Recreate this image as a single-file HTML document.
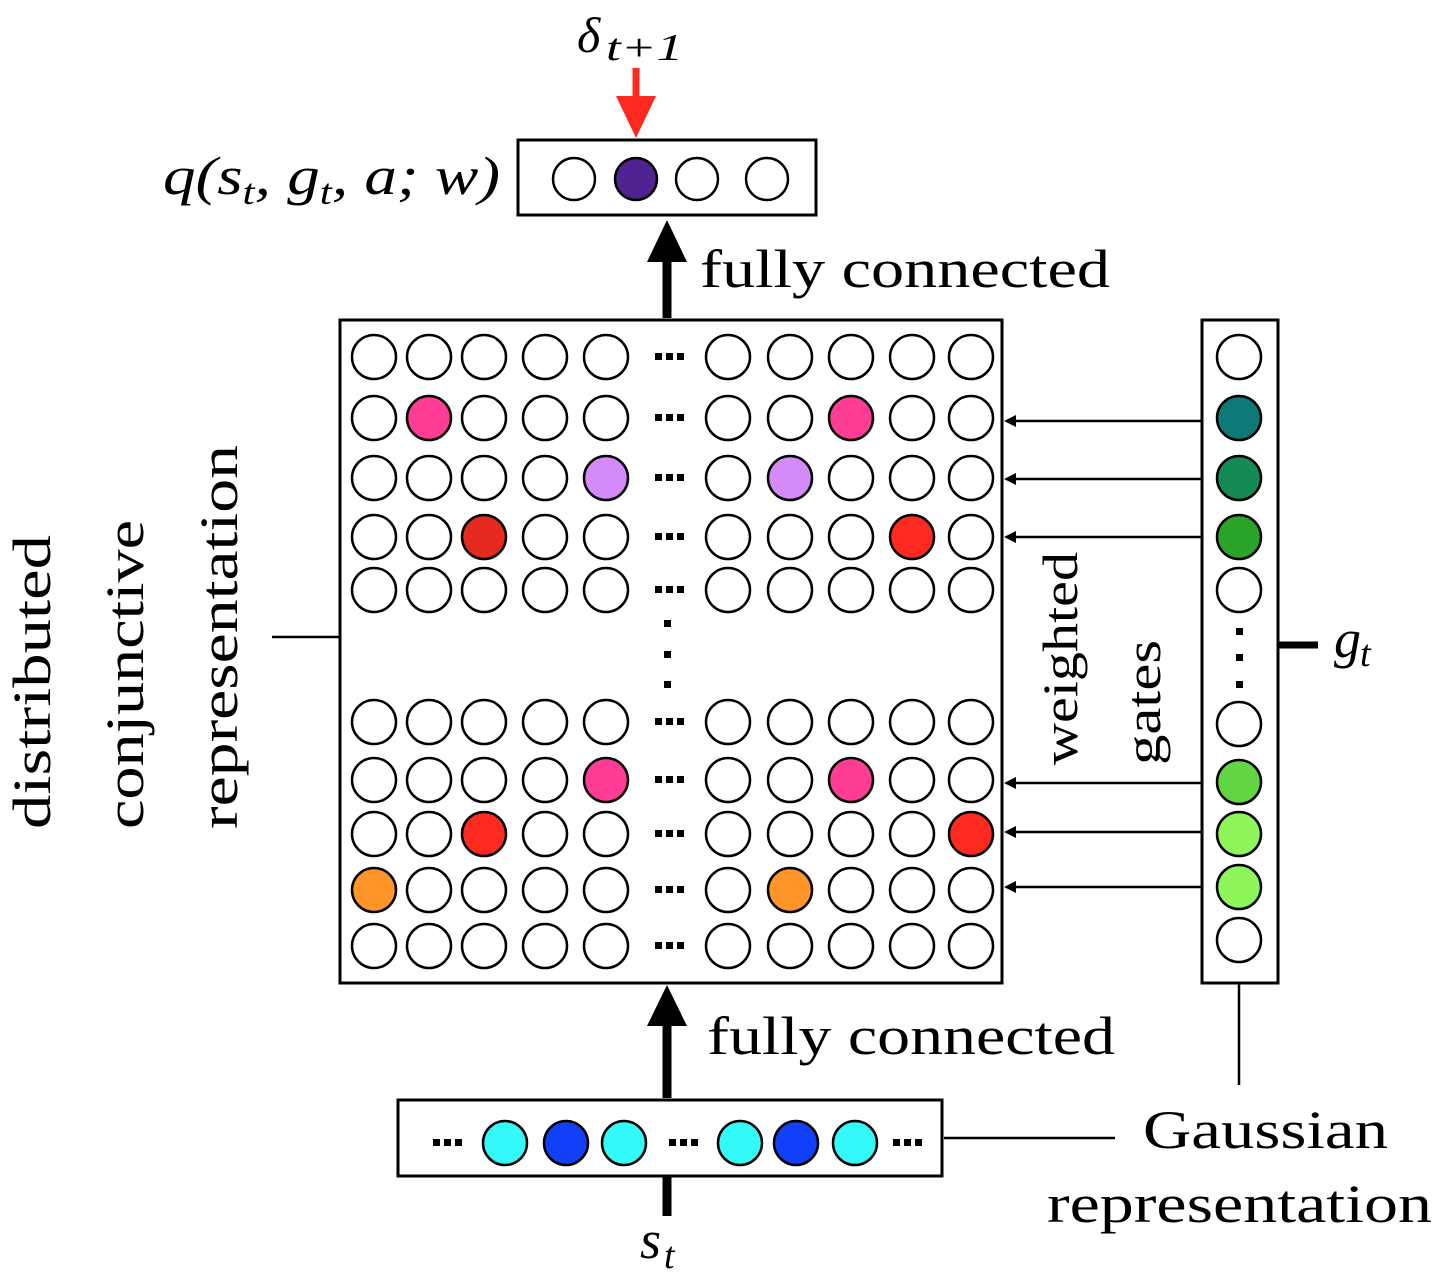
<!DOCTYPE html>
<html><head><meta charset="utf-8"><style>
html,body{margin:0;padding:0;background:#fff;width:1439px;height:1280px;overflow:hidden}
svg{display:block}
text{font-family:"Liberation Serif",serif;fill:#000}
</style></head><body>
<svg width="1439" height="1280" viewBox="0 0 1439 1280" xmlns="http://www.w3.org/2000/svg">
<defs>
<ellipse id="c" cx="0" cy="0" rx="21" ry="21" fill="#fff" stroke="#000" stroke-width="2.5"/>
<ellipse id="s" cx="0" cy="0" rx="22" ry="22" fill="#fff" stroke="#000" stroke-width="2.5"/>
<g id="d"><rect x="-14" y="-4" width="7" height="7" fill="#000"/><rect x="-3" y="-4" width="7" height="7" fill="#000"/><rect x="8" y="-4" width="7" height="7" fill="#000"/></g>
</defs>

<!-- top output -->
<text x="577" y="52" font-size="50" font-style="italic">δ</text>
<text x="606" y="60" font-size="38" font-style="italic" textLength="77" lengthAdjust="spacingAndGlyphs">t+1</text>
<line x1="636" y1="68" x2="636" y2="100" stroke="#FF2A1F" stroke-width="7"/>
<polygon points="616,96 656,96 636,138" fill="#FF2A1F"/>
<rect x="518" y="140" width="298" height="75" fill="#fff" stroke="#000" stroke-width="3"/>
<use href="#c" x="574" y="179"/>
<ellipse cx="636" cy="179" rx="21" ry="21" fill="#512291" stroke="#000" stroke-width="2.5"/>
<use href="#c" x="697" y="179"/>
<use href="#c" x="767" y="179"/>
<text x="163" y="194" font-size="54" font-style="italic" textLength="337" lengthAdjust="spacingAndGlyphs">q(s<tspan font-size="36" dy="10">t</tspan><tspan dy="-10">, g</tspan><tspan font-size="36" dy="10">t</tspan><tspan dy="-10">, a; w)</tspan></text>

<!-- fully connected top -->
<line x1="667" y1="318" x2="667" y2="255" stroke="#000" stroke-width="9"/>
<polygon points="647,262 687,262 667,220" fill="#000"/>
<text x="700" y="287" font-size="54" textLength="410" lengthAdjust="spacingAndGlyphs">fully connected</text>

<!-- grid -->
<rect x="340" y="320" width="662" height="663" fill="#fff" stroke="#000" stroke-width="3"/>
<g>
<use href="#s" x="374" y="357"/><use href="#s" x="429" y="357"/><use href="#s" x="484" y="357"/><use href="#s" x="545" y="357"/><use href="#s" x="606" y="357"/><use href="#d" x="669" y="357"/><use href="#s" x="728" y="357"/><use href="#s" x="790" y="357"/><use href="#s" x="851" y="357"/><use href="#s" x="912" y="357"/><use href="#s" x="971" y="357"/>
<use href="#s" x="374" y="418"/><ellipse cx="429" cy="418" rx="22" ry="22" fill="#FF3D96" stroke="#000" stroke-width="2.5"/><use href="#s" x="484" y="418"/><use href="#s" x="545" y="418"/><use href="#s" x="606" y="418"/><use href="#d" x="669" y="418"/><use href="#s" x="728" y="418"/><use href="#s" x="790" y="418"/><ellipse cx="851" cy="418" rx="22" ry="22" fill="#FF3D96" stroke="#000" stroke-width="2.5"/><use href="#s" x="912" y="418"/><use href="#s" x="971" y="418"/>
<use href="#s" x="374" y="478"/><use href="#s" x="429" y="478"/><use href="#s" x="484" y="478"/><use href="#s" x="545" y="478"/><ellipse cx="606" cy="478" rx="22" ry="22" fill="#D48AF8" stroke="#000" stroke-width="2.5"/><use href="#d" x="669" y="478"/><use href="#s" x="728" y="478"/><ellipse cx="790" cy="478" rx="22" ry="22" fill="#D48AF8" stroke="#000" stroke-width="2.5"/><use href="#s" x="851" y="478"/><use href="#s" x="912" y="478"/><use href="#s" x="971" y="478"/>
<use href="#s" x="374" y="537"/><use href="#s" x="429" y="537"/><ellipse cx="484" cy="537" rx="22" ry="22" fill="#E52A20" stroke="#000" stroke-width="2.5"/><use href="#s" x="545" y="537"/><use href="#s" x="606" y="537"/><use href="#d" x="669" y="537"/><use href="#s" x="728" y="537"/><use href="#s" x="790" y="537"/><use href="#s" x="851" y="537"/><ellipse cx="912" cy="537" rx="22" ry="22" fill="#FF2A1F" stroke="#000" stroke-width="2.5"/><use href="#s" x="971" y="537"/>
<use href="#s" x="374" y="590"/><use href="#s" x="429" y="590"/><use href="#s" x="484" y="590"/><use href="#s" x="545" y="590"/><use href="#s" x="606" y="590"/><use href="#d" x="669" y="590"/><use href="#s" x="728" y="590"/><use href="#s" x="790" y="590"/><use href="#s" x="851" y="590"/><use href="#s" x="912" y="590"/><use href="#s" x="971" y="590"/>
<rect x="664" y="620" width="7" height="7"/><rect x="664" y="651" width="7" height="7"/><rect x="664" y="681" width="7" height="7"/>
<use href="#s" x="374" y="722"/><use href="#s" x="429" y="722"/><use href="#s" x="484" y="722"/><use href="#s" x="545" y="722"/><use href="#s" x="606" y="722"/><use href="#d" x="669" y="722"/><use href="#s" x="728" y="722"/><use href="#s" x="790" y="722"/><use href="#s" x="851" y="722"/><use href="#s" x="912" y="722"/><use href="#s" x="971" y="722"/>
<use href="#s" x="374" y="780"/><use href="#s" x="429" y="780"/><use href="#s" x="484" y="780"/><use href="#s" x="545" y="780"/><ellipse cx="606" cy="780" rx="22" ry="22" fill="#FF3D96" stroke="#000" stroke-width="2.5"/><use href="#d" x="669" y="780"/><use href="#s" x="728" y="780"/><use href="#s" x="790" y="780"/><ellipse cx="851" cy="780" rx="22" ry="22" fill="#FF3D96" stroke="#000" stroke-width="2.5"/><use href="#s" x="912" y="780"/><use href="#s" x="971" y="780"/>
<use href="#s" x="374" y="834"/><use href="#s" x="429" y="834"/><ellipse cx="484" cy="834" rx="22" ry="22" fill="#FF2A1F" stroke="#000" stroke-width="2.5"/><use href="#s" x="545" y="834"/><use href="#s" x="606" y="834"/><use href="#d" x="669" y="834"/><use href="#s" x="728" y="834"/><use href="#s" x="790" y="834"/><use href="#s" x="851" y="834"/><use href="#s" x="912" y="834"/><ellipse cx="971" cy="834" rx="22" ry="22" fill="#FF2A1F" stroke="#000" stroke-width="2.5"/>
<ellipse cx="374" cy="890" rx="22" ry="22" fill="#FF9528" stroke="#000" stroke-width="2.5"/><use href="#s" x="429" y="890"/><use href="#s" x="484" y="890"/><use href="#s" x="545" y="890"/><use href="#s" x="606" y="890"/><use href="#d" x="669" y="890"/><use href="#s" x="728" y="890"/><ellipse cx="790" cy="890" rx="22" ry="22" fill="#FF9528" stroke="#000" stroke-width="2.5"/><use href="#s" x="851" y="890"/><use href="#s" x="912" y="890"/><use href="#s" x="971" y="890"/>
<use href="#s" x="374" y="946"/><use href="#s" x="429" y="946"/><use href="#s" x="484" y="946"/><use href="#s" x="545" y="946"/><use href="#s" x="606" y="946"/><use href="#d" x="669" y="946"/><use href="#s" x="728" y="946"/><use href="#s" x="790" y="946"/><use href="#s" x="851" y="946"/><use href="#s" x="912" y="946"/><use href="#s" x="971" y="946"/>
</g>

<!-- left label -->
<line x1="272" y1="637" x2="340" y2="637" stroke="#000" stroke-width="2.5"/>
<text transform="translate(50,829) rotate(-90)" font-size="54" textLength="294" lengthAdjust="spacingAndGlyphs">distributed</text>
<text transform="translate(143,829) rotate(-90)" font-size="54" textLength="309" lengthAdjust="spacingAndGlyphs">conjunctive</text>
<text transform="translate(237,829) rotate(-90)" font-size="54" textLength="384" lengthAdjust="spacingAndGlyphs">representation</text>

<!-- right column -->
<rect x="1202" y="320" width="76" height="663" fill="#fff" stroke="#000" stroke-width="3"/>
<use href="#s" x="1239" y="357"/>
<ellipse cx="1239" cy="418" rx="22" ry="22" fill="#0E7A78" stroke="#000" stroke-width="2.5"/>
<ellipse cx="1239" cy="478" rx="22" ry="22" fill="#148A55" stroke="#000" stroke-width="2.5"/>
<ellipse cx="1239" cy="537" rx="22" ry="22" fill="#2AA52A" stroke="#000" stroke-width="2.5"/>
<use href="#s" x="1239" y="590"/>
<rect x="1236" y="628" width="7" height="7"/><rect x="1236" y="654" width="7" height="7"/><rect x="1236" y="681" width="7" height="7"/>
<use href="#s" x="1239" y="724"/>
<ellipse cx="1239" cy="782" rx="22" ry="22" fill="#62D542" stroke="#000" stroke-width="2.5"/>
<ellipse cx="1239" cy="834" rx="22" ry="22" fill="#8EF55A" stroke="#000" stroke-width="2.5"/>
<ellipse cx="1239" cy="887" rx="22" ry="22" fill="#8EF55A" stroke="#000" stroke-width="2.5"/>
<use href="#s" x="1239" y="940"/>

<g stroke="#000" stroke-width="2.5">
<line x1="1202" y1="421" x2="1012" y2="421"/><line x1="1202" y1="479" x2="1012" y2="479"/><line x1="1202" y1="537" x2="1012" y2="537"/>
<line x1="1202" y1="783" x2="1012" y2="783"/><line x1="1202" y1="832" x2="1012" y2="832"/><line x1="1202" y1="887" x2="1012" y2="887"/>
</g>
<g fill="#000">
<polygon points="1004,421 1016,415 1016,427"/><polygon points="1004,479 1016,473 1016,485"/><polygon points="1004,537 1016,531 1016,543"/>
<polygon points="1004,783 1016,777 1016,789"/><polygon points="1004,832 1016,826 1016,838"/><polygon points="1004,887 1016,881 1016,893"/>
</g>
<text transform="translate(1077,765) rotate(-90)" font-size="50" textLength="213" lengthAdjust="spacingAndGlyphs">weighted</text>
<text transform="translate(1160,765) rotate(-90)" font-size="50" textLength="125" lengthAdjust="spacingAndGlyphs">gates</text>

<line x1="1278" y1="645" x2="1318" y2="645" stroke="#000" stroke-width="7"/>
<text x="1334" y="657" font-size="54" font-style="italic">g</text>
<text x="1360" y="666" font-size="38" font-style="italic">t</text>

<!-- bottom -->
<line x1="667" y1="1098" x2="667" y2="1020" stroke="#000" stroke-width="9"/>
<polygon points="647,1026 687,1026 667,985" fill="#000"/>
<text x="707" y="1054" font-size="54" textLength="408" lengthAdjust="spacingAndGlyphs">fully connected</text>

<rect x="398" y="1100" width="544" height="76" fill="#fff" stroke="#000" stroke-width="3"/>
<use href="#d" x="447" y="1143"/>
<ellipse cx="505" cy="1143" rx="22" ry="22" fill="#33FAF9" stroke="#000" stroke-width="2.5"/>
<ellipse cx="566" cy="1143" rx="22" ry="22" fill="#1240F8" stroke="#000" stroke-width="2.5"/>
<ellipse cx="624" cy="1143" rx="22" ry="22" fill="#33FAF9" stroke="#000" stroke-width="2.5"/>
<use href="#d" x="683" y="1143"/>
<ellipse cx="740" cy="1143" rx="22" ry="22" fill="#33FAF9" stroke="#000" stroke-width="2.5"/>
<ellipse cx="796" cy="1143" rx="22" ry="22" fill="#1240F8" stroke="#000" stroke-width="2.5"/>
<ellipse cx="855" cy="1143" rx="22" ry="22" fill="#33FAF9" stroke="#000" stroke-width="2.5"/>
<use href="#d" x="907" y="1143"/>
<line x1="667" y1="1176" x2="667" y2="1216" stroke="#000" stroke-width="9"/>
<text x="640" y="1258" font-size="54" font-style="italic">s</text>
<text x="664" y="1268" font-size="38" font-style="italic">t</text>

<line x1="944" y1="1138" x2="1115" y2="1138" stroke="#000" stroke-width="2.5"/>
<line x1="1239" y1="983" x2="1239" y2="1085" stroke="#000" stroke-width="2.5"/>
<text x="1143" y="1148" font-size="54" textLength="245" lengthAdjust="spacingAndGlyphs">Gaussian</text>
<text x="1047" y="1222" font-size="54" textLength="385" lengthAdjust="spacingAndGlyphs">representation</text>
</svg>
</body></html>
